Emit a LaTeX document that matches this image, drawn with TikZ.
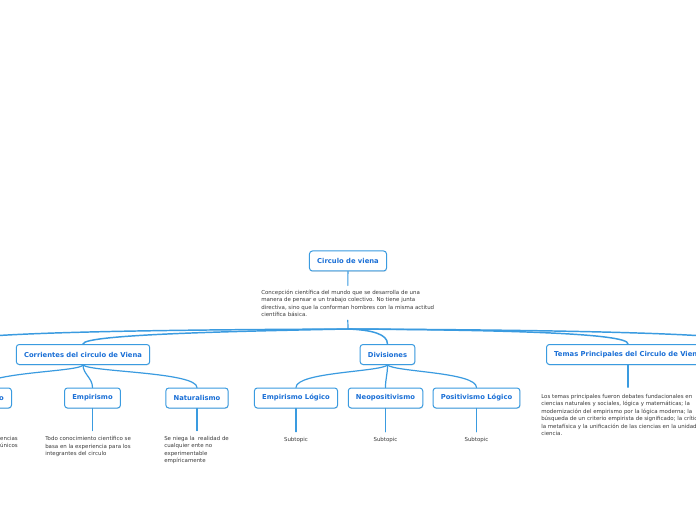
\documentclass[tikz,border=0pt]{standalone}
\usepackage{fontspec}
\setmainfont{DejaVu Sans}
\usetikzlibrary{shadows}
\definecolor{topicblue}{HTML}{1A6FD6}
\definecolor{branchblue}{HTML}{3A9BE0}
\definecolor{notegray}{HTML}{3A3A3A}

\begin{document}
\begin{tikzpicture}[
    x=0.75pt,y=-0.75pt,
    line cap=round,
    line join=round,
    topic/.style={
        draw=branchblue,
        fill=white,
        rounded corners=2.2pt,
        line width=0.75pt,
        font=\fontsize{5.1}{6.1}\selectfont\bfseries,
        text=topicblue,
        minimum height=15pt,
        inner xsep=5.8pt,
        drop shadow={shadow xshift=0.3pt,shadow yshift=-0.7pt,opacity=0.2}
    },
    note/.style={font=\fontsize{4.1}{5.6}\selectfont,text=notegray,align=left,inner sep=0pt},
    branch/.style={draw=branchblue,line width=1.1pt},
    subbranch/.style={draw=branchblue,line width=0.9pt},
    stem/.style={draw=branchblue,line width=0.8pt,shorten >=4pt}
]

\useasboundingbox (0,0) rectangle (696,520);
\clip (0,0) rectangle (696,520);
\fill[white] (0,0) rectangle (696,520);

% raiz
\node[topic] (circulo) at (348,261) {Circulo de viena};
\node[note,anchor=north west] (concepcion) at (261,289.5) {Concepción científica del mundo que se desarrolla de una\\
manera de pensar e un trabajo colectivo. No tiene junta\\
directiva, sino que la conforman hombres con la misma actitud\\
científica básica.};
\coordinate (hub) at (348,329);
\coordinate (offleft) at (-60,345);
\coordinate (offright) at (760,345);

\draw[stem,shorten >=3pt] (circulo.south) -- (concepcion.north);
\draw[subbranch,shorten <=2.5pt] (concepcion.south) -- (hub);

% ramas principales
\node[topic] (corrientes) at (83,354.5) {Corrientes del circulo de Viena};
\node[topic] (divisiones) at (387.5,354.5) {Divisiones};
\node[topic,anchor=west] (temas) at (546,354.5) {Temas Principales del Circulo de Viena};

\draw[branch] (hub) .. controls (120,330) and (-60,333) .. (offleft);
\draw[branch] (hub) .. controls (250,331) and (83,334) .. (corrientes.north);
\draw[branch] (hub) .. controls (372,330) and (387.5,334) .. (divisiones.north);
\draw[branch] (hub) .. controls (500,330) and (629,333) .. (temas.north);
\draw[branch] (hub) .. controls (560,330) and (760,333) .. (offright);

% corrientes
\node[topic,anchor=east] (positivismo) at (12,398) {Positivismo};
\node[topic] (empirismo) at (92.5,398) {Empirismo};
\node[topic] (naturalismo) at (197,398) {Naturalismo};

\draw[subbranch] (corrientes.south) .. controls (80,372) and (-17,372) .. (positivismo.north);
\draw[subbranch] (corrientes.south) .. controls (83,374) and (92.5,378) .. (empirismo.north);
\draw[subbranch] (corrientes.south) .. controls (90,372) and (197,372) .. (naturalismo.north);

\node[note,anchor=north east,align=right] (posnota) at (18,436) {Se apoya en las ciencias\\
empíricas como los únicos};
\node[note,anchor=north west] (empnota) at (45,436) {Todo conocimiento científico se\\
basa en la experiencia para los\\
integrantes del circulo};
\node[note,anchor=north west] (natnota) at (164,436) {Se niega la\ \ realidad de\\
cualquier ente no\\
experimentable\\
empíricamente};

\draw[stem] (positivismo.south) -- (positivismo.south |- posnota.north);
\draw[stem] (empirismo.south) -- (empirismo.south |- empnota.north);
\draw[stem] (naturalismo.south) -- (naturalismo.south |- natnota.north);

% divisiones
\node[topic] (emplogico) at (296,398) {Empirismo Lógico};
\node[topic] (neopositivismo) at (385.5,398) {Neopositivismo};
\node[topic] (poslogico) at (476.5,398) {Positivismo Lógico};

\draw[subbranch] (divisiones.south) .. controls (380,372) and (296,372) .. (emplogico.north);
\draw[subbranch] (divisiones.south) .. controls (387.5,375) and (385.5,378) .. (neopositivismo.north);
\draw[subbranch] (divisiones.south) .. controls (395,372) and (476.5,372) .. (poslogico.north);

\foreach \T in {emplogico,neopositivismo,poslogico} {
    \node[note] (\T-sub) at (\T.south |- 0,440) {Subtopic};
    \draw[stem] (\T.south) -- (\T-sub);
}

% temas
\node[note,anchor=north west] (temasnota) at (541,394) {Los temas principales fueron debates fundacionales en\\
ciencias naturales y sociales, lógica y matemáticas; la\\
modernización del empirismo por la lógica moderna; la\\
búsqueda de un criterio empirista de significado; la crítica a\\
la metafísica y la unificación de las ciencias en la unidad de la\\
ciencia.};

\draw[stem,shorten >=5pt] (temas.south) -- (temas.south |- temasnota.north);

\end{tikzpicture}
\end{document}
